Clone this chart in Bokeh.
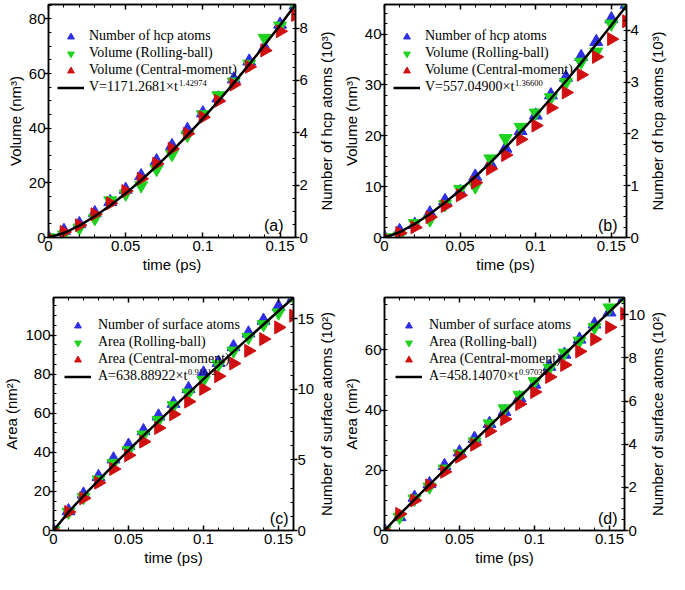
import numpy as np
from bokeh.plotting import figure
from bokeh.models import (Range1d, LinearAxis, SingleIntervalTicker, FixedTicker,
                          Legend, LegendItem, Label, CustomJSTickFormatter)
from bokeh.layouts import column, row
from bokeh.embed import file_html
from bokeh.resources import INLINE

time_ps = [0.00, 0.01, 0.02, 0.03, 0.04, 0.05, 0.06, 0.07, 0.08, 0.09,
           0.10, 0.11, 0.12, 0.13, 0.14, 0.15, 0.16]
x_major_ticks = [0, 0.05, 0.10, 0.15]
x_minor_ticks = [0.01, 0.02, 0.03, 0.04, 0.06, 0.07, 0.08, 0.09,
                 0.11, 0.12, 0.13, 0.14, 0.16]

# ---- (a) volume, hcp atoms ----
a_hcp_atoms = [0, 0.26, 0.52, 0.94, 1.36, 1.83, 2.35, 2.92, 3.50, 4.12,
               4.75, 5.32, 6.05, 6.73, 7.25, 8.14, 8.87]          # 10^3
a_vol_rolling = [0, 1.0, 3.5, 7.0, 13.5, 16.0, 19.0, 25.0, 30.5, 37.5,
                 45.0, 52.0, 57.0, 63.5, 73.0, 77.5, 84.5]
a_vol_central = [0, 2.0, 4.5, 8.5, 12.5, 17.0, 21.5, 27.0, 32.5, 38.0,
                 44.0, 50.0, 56.0, 62.5, 68.5, 75.5, 81.5]
a_vol_fit = [0, 1.62, 4.36, 7.78, 11.75, 16.17, 20.97, 26.14, 31.66, 37.46,
             43.55, 49.90, 56.50, 63.37, 70.44, 77.73, 85.27]

# ---- (b) volume, hcp atoms ----
b_hcp_atoms = [0, 0.13, 0.25, 0.47, 0.71, 0.88, 1.18, 1.42, 1.72, 2.06,
               2.36, 2.75, 3.09, 3.49, 3.78, 4.22, 4.50]          # 10^3
b_vol_rolling = [0, 0.3, 2.8, 3.5, 6.5, 9.5, 10.0, 15.5, 19.5, 21.7,
                 24.5, 27.5, 30.5, 34.5, 36.5, 42.0, 45.8]
b_vol_central = [0, 0.9, 2.0, 4.0, 6.2, 8.3, 10.8, 13.5, 16.2, 19.3,
                 22.0, 25.5, 28.5, 32.0, 35.5, 39.0, 42.5]
b_vol_fit = [0, 1.03, 2.66, 4.63, 6.86, 9.30, 11.94, 14.73, 17.69, 20.77,
             23.98, 27.32, 30.76, 34.32, 37.98, 41.73, 45.57]

# ---- (c) area, surface atoms ----
c_surf_atoms = [0, 1.38, 2.56, 3.80, 5.05, 6.02, 7.05, 8.09, 8.99, 10.03,
                11.13, 11.89, 13.00, 13.97, 14.87, 15.84, 16.50]  # 10^2
c_area_rolling = [0, 9.5, 17.0, 26.0, 34.5, 41.0, 49.0, 56.5, 64.0, 70.5,
                  77.0, 85.0, 92.0, 99.0, 105.5, 111.5, 119.3]
c_area_central = [0, 9.5, 16.5, 24.5, 31.5, 38.5, 45.5, 52.5, 59.5, 66.0,
                  72.5, 79.0, 85.5, 92.0, 98.0, 104.0, 110.0]
c_area_fit = [0, 9.40, 17.74, 25.72, 33.47, 41.07, 48.54, 55.90, 63.17, 70.36,
              77.49, 84.56, 91.60, 98.59, 105.5, 112.4, 119.2]

# ---- (d) area, surface atoms ----
d_surf_atoms = [0, 0.63, 1.53, 2.16, 3.00, 3.63, 4.26, 4.95, 5.51, 6.14,
                6.77, 7.60, 8.16, 8.86, 9.56, 10.12, 10.80]       # 10^2
d_area_rolling = [0, 4.5, 10.5, 14.5, 20.5, 25.5, 29.5, 35.5, 40.5, 45.0,
                  49.5, 54.0, 59.0, 63.0, 67.5, 74.0, 77.4]
d_area_central = [0, 5.5, 10.0, 15.0, 19.5, 24.5, 28.5, 33.0, 37.0, 42.0,
                  46.0, 51.0, 55.0, 59.5, 63.5, 67.5, 72.0]
d_area_fit = [0, 5.25, 10.29, 15.25, 20.15, 25.03, 29.87, 34.69, 39.50, 44.28,
              49.05, 53.82, 58.55, 63.26, 67.98, 72.70, 77.39]

BLUE = "#2e2ee6"
GREEN = "#1fd21f"
RED = "#d01010"
SANS = "Liberation Sans"
SERIF = "Liberation Serif"
FS = "15px"


def style_axis(ax, vertical):
    ax.axis_line_color = "black"
    ax.axis_line_width = 1.5
    ax.major_tick_line_color = "black"
    ax.major_tick_line_width = 1.5
    ax.minor_tick_line_color = "black"
    ax.minor_tick_line_width = 1
    ax.major_label_text_font = SANS
    ax.major_label_text_font_size = FS
    ax.major_label_text_color = "black"
    ax.axis_label_text_font = SANS
    ax.axis_label_text_font_size = FS
    ax.axis_label_text_font_style = "normal"
    ax.axis_label_text_color = "black"
    ax.axis_label_standoff = 2
    if vertical:
        ax.major_tick_out = 4
        ax.major_tick_in = 0
        ax.minor_tick_out = 0
        ax.minor_tick_in = 3
    else:
        ax.major_tick_out = 0
        ax.major_tick_in = 5
        ax.minor_tick_out = 0
        ax.minor_tick_in = 3


def make_panel(width, height, bl, br, bt, bb, ymax, rmax, yint, yminor, rint, rminor,
               blue, green, red, fit, labels, exponent, ytitle, tag,
               leg_dx, leg_row1, leg_standoff):
    W = width - bl - br
    H = height - bt - bb
    p = figure(width=width, height=height, min_border_left=bl, min_border_right=br,
               min_border_top=bt, min_border_bottom=bb,
               x_range=Range1d(0, 0.16), y_range=Range1d(0, ymax),
               output_backend="svg", toolbar_location=None, tools="")
    p.extra_y_ranges = {"r": Range1d(0, rmax)}
    p.xgrid.visible = False
    p.ygrid.visible = False
    p.outline_line_color = "black"
    p.outline_line_width = 1.5
    p.background_fill_color = "white"
    p.border_fill_color = "white"

    fmt = CustomJSTickFormatter(code="return String(Math.round(tick*1000)/1000);")
    xa = p.xaxis[0]
    xa.ticker = FixedTicker(ticks=x_major_ticks, minor_ticks=x_minor_ticks)
    xa.formatter = fmt
    style_axis(xa, False)
    xa.major_label_standoff = 3
    xa.axis_label = "time (ps)"

    ya = p.yaxis[0]
    ya.ticker = SingleIntervalTicker(interval=yint, num_minor_ticks=yminor)
    style_axis(ya, True)
    ya.major_label_standoff = -1
    ya.axis_label = ytitle

    top = LinearAxis(ticker=FixedTicker(ticks=x_major_ticks, minor_ticks=x_minor_ticks),
                     formatter=CustomJSTickFormatter(code="return '';"))
    style_axis(top, False)
    top.major_label_standoff = 0
    p.add_layout(top, "above")

    ra = LinearAxis(y_range_name="r",
                    ticker=SingleIntervalTicker(interval=rint, num_minor_ticks=rminor))
    style_axis(ra, True)
    ra.major_label_standoff = 0
    p.add_layout(ra, "right")

    r_blue = p.scatter(time_ps, blue, y_range_name="r", marker="triangle", size=13,
                       fill_color=BLUE, line_color=BLUE)
    r_green = p.scatter(time_ps, green, marker="inverted_triangle", size=13,
                        fill_color=GREEN, line_color=GREEN)
    r_red = p.scatter(time_ps, red, marker="triangle", angle=-np.pi / 2, size=13,
                      fill_color=RED, line_color=RED)
    r_fit = p.line(time_ps, fit, line_color="black", line_width=2.5)

    gh = 17
    leg_h = 4 * gh
    box_top = leg_row1 - gh / 2
    legend = Legend(items=[LegendItem(label=labels[0], renderers=[r_blue]),
                           LegendItem(label=labels[1], renderers=[r_green]),
                           LegendItem(label=labels[2], renderers=[r_red]),
                           LegendItem(label=labels[3], renderers=[r_fit])],
                    location=(leg_dx, H - box_top - leg_h),
                    padding=0, margin=0, spacing=0,
                    glyph_width=27, glyph_height=gh, label_height=gh,
                    label_standoff=leg_standoff,
                    label_text_font=SERIF, label_text_font_size="14px",
                    label_text_color="black",
                    border_line_color=None, background_fill_alpha=0)
    p.add_layout(legend)

    row4 = leg_row1 + 3 * gh
    p.add_layout(Label(x=leg_dx + 27 + leg_standoff + 89.5, y=H - row4 + 4.5,
                       x_units="screen", y_units="screen", text=exponent,
                       text_font=SERIF, text_font_size="8.5px", text_color="black",
                       text_align="left", text_baseline="middle"))
    p.add_layout(Label(x=W - 12, y=12, x_units="screen", y_units="screen",
                       text=tag, text_align="right", text_baseline="alphabetic",
                       text_font=SANS, text_font_size="16px", text_color="black"))
    return p


def title_strip(width, height, text, center_from_top, cx):
    """Narrow blank figure holding a right-side axis title that reads bottom-to-top."""
    s = figure(width=width, height=height, min_border_left=0, min_border_right=0,
               min_border_top=0, min_border_bottom=0,
               x_range=Range1d(0, 1), y_range=Range1d(0, 1),
               x_axis_type=None, y_axis_type=None,
               output_backend="svg", toolbar_location=None, tools="")
    s.outline_line_color = None
    s.background_fill_color = "white"
    s.border_fill_color = "white"
    s.add_layout(Label(x=cx, y=center_from_top, x_units="canvas",
                       y_units="canvas", text=text, angle=np.pi / 2,
                       text_align="center", text_baseline="middle",
                       text_font=SANS, text_font_size=FS, text_color="black"))
    return s


TOP_H, BOT_H = 279, 293
TOP_BT, BOT_BT, BB = 4, 18, 42
H_TOP = TOP_H - TOP_BT - BB
H_BOT = BOT_H - BOT_BT - BB

pa = make_panel(317, TOP_H, 48, 22, TOP_BT, BB, 85.3, 8.9, 20, 4, 2, 4,
                a_hcp_atoms, a_vol_rolling, a_vol_central, a_vol_fit,
                ["Number of hcp atoms", "Volume (Rolling-ball)",
                 "Volume (Central-moment)", "V=1171.2681\u00d7t"], "1.42974",
                "Volume (nm\u00b3)", "(a)", 9, 32, 5)
pb = make_panel(309, TOP_H, 42, 22, TOP_BT, BB, 45.8, 4.5, 10, 5, 1, 5,
                b_hcp_atoms, b_vol_rolling, b_vol_central, b_vol_fit,
                ["Number of hcp atoms", "Volume (Rolling-ball)",
                 "Volume (Central-moment)", "V=557.04900\u00d7t"], "1.36600",
                "Volume (nm\u00b3)", "(b)", 9, 32, 5)
pc = make_panel(317, BOT_H, 48, 22, BOT_BT, BB, 119.3, 16.5, 20, 4, 5, 5,
                c_surf_atoms, c_area_rolling, c_area_central, c_area_fit,
                ["Number of surface atoms", "Area (Rolling-ball)",
                 "Area (Central-moment)", "A=638.88922\u00d7t"], "0.91612",
                "Area (nm\u00b2)", "(c)", 11, 28, 7)
pd_ = make_panel(309, BOT_H, 42, 22, BOT_BT, BB, 77.4, 10.8, 20, 4, 2, 4,
                 d_surf_atoms, d_area_rolling, d_area_central, d_area_fit,
                 ["Number of surface atoms", "Area (Rolling-ball)",
                  "Area (Central-moment)", "A=458.14070\u00d7t"], "0.97038",
                 "Area (nm\u00b2)", "(d)", 11, 28, 7)

sa = title_strip(22, TOP_H, "Number of hcp atoms (10\u00b3)", TOP_BT + H_TOP / 2, 9)
sb = title_strip(21, TOP_H, "Number of hcp atoms (10\u00b3)", TOP_BT + H_TOP / 2, 9)
sc = title_strip(22, BOT_H, "Number of surface atoms (10\u00b2)", BOT_BT + H_BOT / 2, 9)
sd = title_strip(21, BOT_H, "Number of surface atoms (10\u00b2)", BOT_BT + H_BOT / 2, 9)

layout = column(row(pa, sa, pb, sb), row(pc, sc, pd_, sd))
open("out.html", "w").write(file_html(layout, INLINE))
